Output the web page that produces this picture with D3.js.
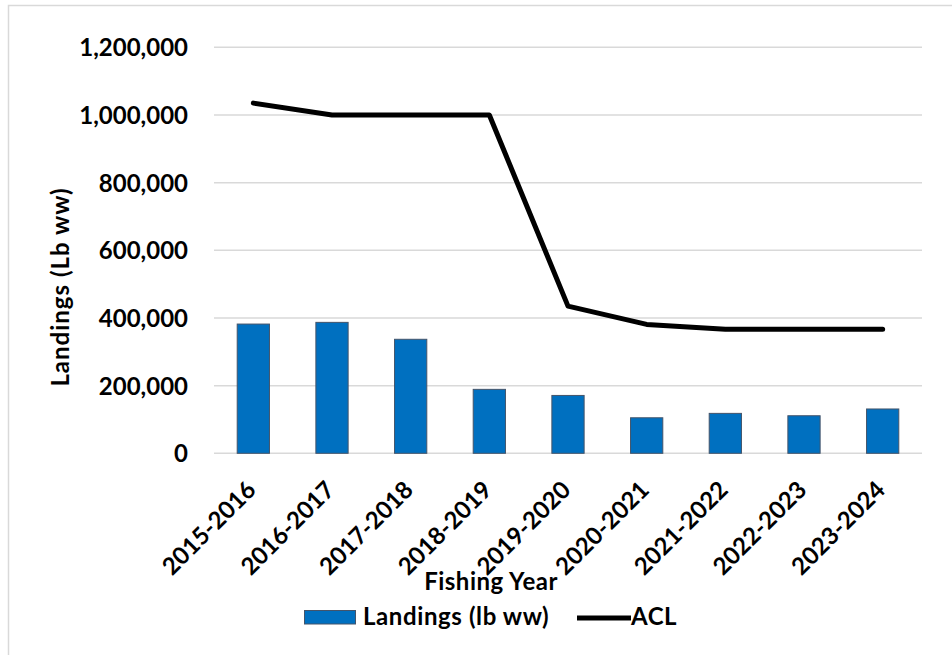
<!DOCTYPE html>
<html>
<head>
<meta charset="utf-8">
<script src="https://cdn.jsdelivr.net/npm/d3@7"></script>
<style>
  html, body { margin: 0; padding: 0; background: #fff; }
  svg { display: block; }
  text { font-family: Lato, "Open Sans", sans-serif; font-weight: 700; fill: #000; }
</style>
</head>
<body>
<svg id="chart" width="952" height="655"></svg>
<script>
const categories = ["2015-2016","2016-2017","2017-2018","2018-2019","2019-2020","2020-2021","2021-2022","2022-2023","2023-2024"];
const landings = [382000, 387000, 337000, 189000, 171000, 105000, 118000, 111000, 131000];
const acl = [1035000, 1000000, 1000000, 1000000, 435000, 381000, 367000, 367000, 367000];
const yTicks = [0, 200000, 400000, 600000, 800000, 1000000, 1200000];
const yTitle = "Landings (Lb ww)";
const xTitle = "Fishing Year";
const seriesNames = ["Landings (lb ww)", "ACL"];

(function () {
const svg = d3.select("#chart");
const pLeft = 214, pRight = 922, pTop = 47.3, pBottom = 453.3;

// outer border
svg.append("rect").attr("x", 8.5).attr("y", 5.5).attr("width", 1000).attr("height", 800)
  .attr("fill", "none").attr("stroke", "#d9d9d9").attr("stroke-width", 1.5);

const x = d3.scaleBand().domain(categories).range([pLeft, pRight]).paddingInner(0.59).paddingOuter(0.295);
const xc = d3.scaleBand().domain(categories).range([pLeft, pRight]);
const y = d3.scaleLinear().domain([0, 1200000]).range([pBottom, pTop]);

// gridlines
svg.append("g").selectAll("line").data(yTicks).join("line")
  .attr("x1", pLeft).attr("x2", pRight)
  .attr("y1", d => y(d)).attr("y2", d => y(d))
  .attr("stroke", "#d9d9d9").attr("stroke-width", 1.5);

// y axis labels
const yAxis = d3.axisLeft(y).tickValues(yTicks).tickSize(0).tickPadding(0)
  .tickFormat(d3.format(","));
const gy = svg.append("g").attr("transform", `translate(188,0)`).call(yAxis);
gy.select(".domain").remove();
gy.selectAll("text").attr("font-size", 24).attr("font-family", "Lato").attr("font-weight", 700).attr("fill", "#000").attr("dy", "0.36em");

// bars
svg.append("g").selectAll("rect").data(landings).join("rect")
  .attr("x", (d, i) => x(categories[i]))
  .attr("width", x.bandwidth())
  .attr("y", d => y(d))
  .attr("height", d => y(0) - y(d))
  .attr("fill", "#0070C0").attr("stroke", "#44546A").attr("stroke-width", 1);

// ACL line
const line = d3.line().x((d, i) => xc(categories[i]) + xc.bandwidth() / 2).y(d => y(d));
svg.append("path").datum(acl).attr("d", line)
  .attr("fill", "none").attr("stroke", "#000").attr("stroke-width", 5)
  .attr("stroke-linejoin", "round").attr("stroke-linecap", "round");

// x axis labels
const xAxis = d3.axisBottom(xc).tickSize(0).tickPadding(0);
const gx = svg.append("g").attr("transform", `translate(0,${pBottom})`).call(xAxis);
gx.select(".domain").remove();
gx.selectAll("text")
  .attr("font-size", 24).attr("font-family", "Lato").attr("font-weight", 700).attr("fill", "#000")
  .attr("text-anchor", "end").attr("dy", null).attr("y", null)
  .attr("transform", "translate(4,38) rotate(-45)");

// axis titles
svg.append("text").attr("x", 491).attr("y", 590).attr("text-anchor", "middle")
  .attr("font-size", 24).attr("letter-spacing", 0.5).text(xTitle);
svg.append("text").attr("transform", "translate(69,287) rotate(-90)").attr("text-anchor", "middle")
  .attr("font-size", 24).attr("letter-spacing", 1).text(yTitle);

// legend
const lg = svg.append("g");
lg.append("rect").attr("x", 304.5).attr("y", 610.5).attr("width", 51).attr("height", 13.5)
  .attr("fill", "#0070C0").attr("stroke", "#44546A").attr("stroke-width", 1);
lg.append("text").attr("x", 363).attr("y", 625).attr("font-size", 24).attr("letter-spacing", 0.6).text(seriesNames[0]);
lg.append("line").attr("x1", 577).attr("x2", 631).attr("y1", 618).attr("y2", 618)
  .attr("stroke", "#000").attr("stroke-width", 5);
lg.append("text").attr("x", 631).attr("y", 625).attr("font-size", 24).attr("letter-spacing", 0.5).text(seriesNames[1]);
})();
</script>
</body>
</html>
